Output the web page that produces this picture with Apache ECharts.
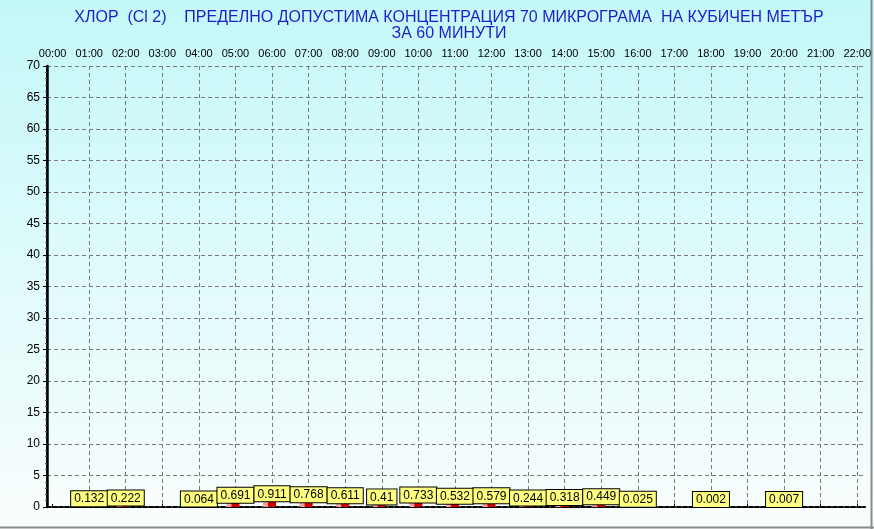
<!DOCTYPE html>
<html>
<head>
<meta charset="utf-8">
<script src="https://cdn.jsdelivr.net/npm/echarts@6/dist/echarts.min.js"></script>
<style>
html,body{margin:0;padding:0;}
#c{width:874px;height:529px;}
</style>
</head>
<body>
<div id="c"></div>
<script>
var titleLine1 = 'ХЛОР  (Cl 2)    ПРЕДЕЛНО ДОПУСТИМА КОНЦЕНТРАЦИЯ 70 МИКРОГРАМА  НА КУБИЧЕН МЕТЪР';
var titleLine2 = 'ЗА 60 МИНУТИ';
var hours = [1, 2, 4, 5, 6, 7, 8, 9, 10, 11, 12, 13, 14, 15, 16, 18, 20];
var values = [0.132, 0.222, 0.064, 0.691, 0.911, 0.768, 0.611, 0.41, 0.733, 0.532, 0.579, 0.244, 0.318, 0.449, 0.025, 0.002, 0.007];
var labels = ['0.132', '0.222', '0.064', '0.691', '0.911', '0.768', '0.611', '0.41', '0.733', '0.532', '0.579', '0.244', '0.318', '0.449', '0.025', '0.002', '0.007'];
var xMin = 0, xMax = 22;
var yMin = 0, yMax = 70, yStep = 5;

function hh(v){ v = Math.round(v); return (v < 10 ? '0' : '') + v + ':00'; }

var vColors = [];
for (var i = xMin; i <= xMax; i++) vColors.push(i === xMin ? 'rgba(0,0,0,0)' : '#7a7a7a');

var chart = echarts.init(document.getElementById('c'));
var font = 'Arial, "Liberation Sans", sans-serif';
chart.setOption({
  animation: false,
  backgroundColor: {
    type: 'linear', x: 0, y: 0, x2: 0, y2: 1,
    colorStops: [{offset: 0, color: '#c4f8f9'}, {offset: 1, color: '#fafdfd'}]
  },
  title: {
    text: titleLine1 + '\n' + titleLine2,
    left: 444, top: 5, textAlign: 'center',
    textStyle: {fontFamily: font, fontSize: 16, fontWeight: 'normal', color: '#1e1ec8', lineHeight: 16}
  },
  grid: [
    {left: 47, right: 9, top: 66, bottom: 22},
    {left: 52.6, right: 14.6, top: 66, bottom: 22}
  ],
  xAxis: [
    {gridIndex: 0, type: 'value', min: 0, max: 1, position: 'bottom',
     axisLine: {show: true, lineStyle: {color: '#000', width: 1, type: [4, 2]}},
     axisTick: {show: false}, axisLabel: {show: false}, splitLine: {show: false}},
    {gridIndex: 0, type: 'value', min: 0, max: 1, position: 'top',
     axisLine: {show: true, lineStyle: {color: '#000', width: 2, type: [4, 2]}},
     axisTick: {show: false}, axisLabel: {show: false}, splitLine: {show: false}},
    {gridIndex: 1, type: 'value', min: xMin, max: xMax, interval: 1, position: 'top',
     axisLine: {show: false},
     axisTick: {show: true, length: 3, lineStyle: {color: '#000'}},
     axisLabel: {show: true, margin: 7, fontSize: 11, fontFamily: font, color: '#000', formatter: hh, showMinLabel: true, showMaxLabel: true},
     splitLine: {show: true, lineStyle: {color: vColors, type: [4, 3], width: 1}}}
  ],
  yAxis: [
    {gridIndex: 0, type: 'value', min: yMin, max: yMax, interval: yStep, position: 'left',
     axisLine: {show: true, lineStyle: {color: '#000', width: 2.5}},
     axisTick: {show: true, length: 4, lineStyle: {color: '#000'}},
     minorTick: {show: true, splitNumber: 5, length: 2, lineStyle: {color: '#555'}},
     axisLabel: {show: true, margin: 7, fontSize: 12, fontFamily: font, color: '#000'},
     splitLine: {show: true, lineStyle: {color: '#7a7a7a', type: [4, 3], width: 1}}},
    {gridIndex: 0, type: 'value', min: yMin, max: yMax, interval: yStep, position: 'right',
     axisLine: {show: true, lineStyle: {color: '#000', width: 1.5}},
     axisTick: {show: false}, axisLabel: {show: false}, splitLine: {show: false}},
    {gridIndex: 1, type: 'value', min: yMin, max: yMax, interval: yStep,
     axisLine: {show: false}, axisTick: {show: false}, axisLabel: {show: false}, splitLine: {show: false}}
  ],
  series: [{
    type: 'bar',
    xAxisIndex: 2, yAxisIndex: 2,
    barWidth: 8,
    data: hours.map(function(h, i){ return [h, values[i]]; }),
    itemStyle: {color: '#cc0000', shadowColor: '#f4a0a0', shadowOffsetX: -5, shadowBlur: 0},
    label: {
      show: true, position: 'top', distance: 0,
      formatter: function(p){ return labels[p.dataIndex]; },
      fontSize: 12, fontFamily: font, color: '#000',
      backgroundColor: '#ffff80', borderColor: '#000', borderWidth: 1,
      padding: [2, 3, 1, 3], lineHeight: 12
    },
    z: 5
  }],
  graphic: [
    {type: 'line', shape: {x1: 0, y1: 527.5, x2: 874, y2: 527.5}, style: {stroke: '#8c8c8c', lineWidth: 2}},
    {type: 'line', shape: {x1: 871.5, y1: 0, x2: 871.5, y2: 529}, style: {stroke: '#8c8c8c', lineWidth: 2}}
  ]
});
</script>
</body>
</html>
